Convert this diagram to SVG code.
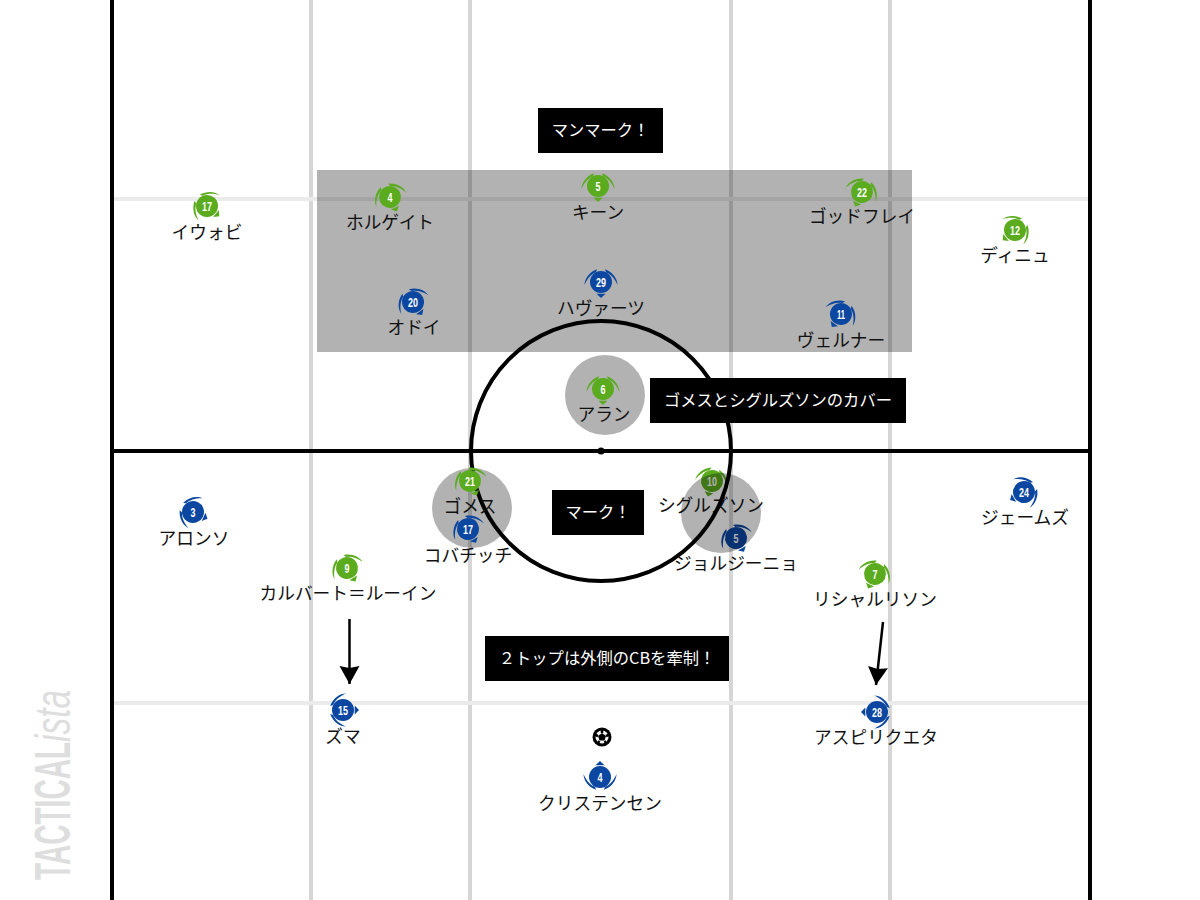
<svg xmlns="http://www.w3.org/2000/svg" width="1200" height="900" viewBox="0 0 1200 900">
<style>
text{font-family:"Noto Sans CJK JP","Liberation Sans",sans-serif}
.lbl{font-size:17.700px;fill:#111;text-anchor:middle}
.num{font-family:"Liberation Sans",sans-serif;font-size:12px;font-weight:700;fill:#fff;text-anchor:middle}
.box{fill:#000}
.cap{font-size:16.300px;fill:#fff;text-anchor:middle}
.g{fill:#5aab1e}.b{fill:#0b47a1}
.guide{stroke:#d6d6d6;stroke-width:4;fill:none}
.guideh{stroke:#ebebeb;stroke-width:4;fill:none}
.pitch{stroke:#000;stroke-width:4;fill:none}
.shade{fill:#000;fill-opacity:.3}
.arrow{stroke:#000;stroke-width:2.500;fill:none;marker-end:url(#ah)}
.brand{font-family:"Liberation Sans",sans-serif;font-size:50px;fill:#dedede}
</style>
<defs>
<marker id="ah" markerUnits="userSpaceOnUse" markerWidth="22" markerHeight="22" refX="18" refY="10" orient="auto"><path d="M0 0L18 10L0 20L2 10Z" fill="#000"/></marker>
<g id="p"><circle r="11"/><path d="M-4.500 -11.700L4.500 -11.700L0 -16Z"/><path d="M-16.500 -3C-16.500 3 -12 10 -4 12.800L-5 9.800C-10 8 -14 3 -16.500 -3Z"/><path d="M16.500 -3C16.500 3 12 10 4 12.800L5 9.800C10 8 14 3 16.500 -3Z"/></g>
</defs>
<rect width="1200" height="900" fill="#fff"/>
<g id="guides">
<path class="guide" d="M311 0V900M470 0V900M731 0V900M890 0V900"/>
<path class="guideh" d="M112 199H1090M112 703H1090"/>
</g>
<rect id="zone" class="shade" x="317" y="170" width="595" height="182"/>
<g id="p-sigurdsson"><use href="#p" class="g" transform="translate(712 481) rotate(195)"/><text class="num" x="712" y="485.500" textLength="10" lengthAdjust="spacingAndGlyphs">10</text><text class="lbl" x="711" y="512">シグルズソン</text></g>
<g id="p-jorginho"><use href="#p" class="b" transform="translate(736 538) rotate(150)"/><text class="num" x="736" y="542.500" textLength="5" lengthAdjust="spacingAndGlyphs">5</text><text class="lbl" x="736" y="570">ジョルジーニョ</text></g>
<circle id="shade-sigurdsson" class="shade" cx="721" cy="513" r="40"/>
<circle id="shade-arrasate" class="shade" cx="605" cy="395" r="40"/>
<circle id="shade-gomes" class="shade" cx="472" cy="508" r="40"/>
<g id="pitch-lines">
<path class="pitch" d="M112 0V900M1090 0V900M112 451H1090"/>
<circle class="pitch" cx="601" cy="451" r="130"/>
<circle cx="601" cy="451" r="3.500" fill="#000"/>
</g>
<g id="connectors">
<path class="arrow" d="M349.500 619V684"/>
<path class="arrow" d="M883 622L876 685"/>
</g>
<g id="p-iwobi"><use href="#p" class="g" transform="translate(207 206) rotate(130)"/><text class="num" x="207" y="210.500" textLength="10" lengthAdjust="spacingAndGlyphs">17</text><text class="lbl" x="207" y="239">イウォビ</text></g>
<g id="p-holgate"><use href="#p" class="g" transform="translate(390 197) rotate(155)"/><text class="num" x="390" y="201.500" textLength="5" lengthAdjust="spacingAndGlyphs">4</text><text class="lbl" x="390" y="229">ホルゲイト</text></g>
<g id="p-keane"><use href="#p" class="g" transform="translate(598 186) rotate(180)"/><text class="num" x="598" y="190.500" textLength="5" lengthAdjust="spacingAndGlyphs">5</text><text class="lbl" x="598" y="219">キーン</text></g>
<g id="p-godfrey"><use href="#p" class="g" transform="translate(862 192) rotate(205)"/><text class="num" x="862" y="196.500" textLength="10" lengthAdjust="spacingAndGlyphs">22</text><text class="lbl" x="862" y="223">ゴッドフレイ</text></g>
<g id="p-digne"><use href="#p" class="g" transform="translate(1015 230) rotate(230)"/><text class="num" x="1015" y="234.500" textLength="10" lengthAdjust="spacingAndGlyphs">12</text><text class="lbl" x="1015" y="262">ディニュ</text></g>
<g id="p-odoi"><use href="#p" class="b" transform="translate(413 302) rotate(145)"/><text class="num" x="413" y="306.500" textLength="10" lengthAdjust="spacingAndGlyphs">20</text><text class="lbl" x="414" y="334">オドイ</text></g>
<g id="p-havertz"><use href="#p" class="b" transform="translate(601 282) rotate(180)"/><text class="num" x="601" y="286.500" textLength="10" lengthAdjust="spacingAndGlyphs">29</text><text class="lbl" x="601" y="315">ハヴァーツ</text></g>
<g id="p-werner"><use href="#p" class="b" transform="translate(841 314) rotate(215)"/><text class="num" x="841" y="318.500" textLength="8" lengthAdjust="spacingAndGlyphs">11</text><text class="lbl" x="841" y="347">ヴェルナー</text></g>
<g id="p-arrasate"><use href="#p" class="g" transform="translate(603 389) rotate(180)"/><text class="num" x="603" y="393.500" textLength="5" lengthAdjust="spacingAndGlyphs">6</text><text class="lbl" x="604" y="421">アラン</text></g>
<g id="p-gomes"><use href="#p" class="g" transform="translate(470 481) rotate(155)"/><text class="num" x="470" y="485.500" textLength="10" lengthAdjust="spacingAndGlyphs">21</text><text class="lbl" x="470" y="513">ゴメス</text></g>
<g id="p-kovacic"><use href="#p" class="b" transform="translate(468 529) rotate(150)"/><text class="num" x="468" y="533.500" textLength="10" lengthAdjust="spacingAndGlyphs">17</text><text class="lbl" x="468" y="562">コバチッチ</text></g>
<g id="p-alonso"><use href="#p" class="b" transform="translate(193 512) rotate(115)"/><text class="num" x="193" y="516.500" textLength="5" lengthAdjust="spacingAndGlyphs">3</text><text class="lbl" x="194" y="545">アロンソ</text></g>
<g id="p-james"><use href="#p" class="b" transform="translate(1024 492) rotate(240)"/><text class="num" x="1024" y="496.500" textLength="10" lengthAdjust="spacingAndGlyphs">24</text><text class="lbl" x="1025" y="524">ジェームズ</text></g>
<g id="p-calvert"><use href="#p" class="g" transform="translate(347 568) rotate(148)"/><text class="num" x="347" y="572.500" textLength="5" lengthAdjust="spacingAndGlyphs">9</text><text class="lbl" x="348" y="600">カルバート＝ルーイン</text></g>
<g id="p-richarlison"><use href="#p" class="g" transform="translate(875 574) rotate(205)"/><text class="num" x="875" y="578.500" textLength="5" lengthAdjust="spacingAndGlyphs">7</text><text class="lbl" x="875" y="606">リシャルリソン</text></g>
<g id="p-zouma"><use href="#p" class="b" transform="translate(343 710) rotate(90)"/><text class="num" x="343" y="714.500" textLength="10" lengthAdjust="spacingAndGlyphs">15</text><text class="lbl" x="343" y="743">ズマ</text></g>
<g id="p-azpi"><use href="#p" class="b" transform="translate(877 712) rotate(270)"/><text class="num" x="877" y="716.500" textLength="10" lengthAdjust="spacingAndGlyphs">28</text><text class="lbl" x="876" y="744">アスピリクエタ</text></g>
<g id="p-christensen"><use href="#p" class="b" transform="translate(600 777)"/><text class="num" x="600" y="781.500" textLength="5" lengthAdjust="spacingAndGlyphs">4</text><text class="lbl" x="600" y="810">クリステンセン</text></g>
<g id="ball"><circle cx="602" cy="737" r="9.500" fill="#000"/><circle cx="602" cy="737" r="6.500" fill="#fff"/><path d="M602 733L606 735.900L604.500 740.500H599.500L598 735.900Z" fill="#000"/><path d="M602 729V733M610 734.500L606 736M607 744L604.500 741M597 744L599.500 741M594 734.500L598 736" stroke="#000" stroke-width="2.500"/></g>
<g id="cap-manmark"><rect class="box" x="538" y="108" width="125" height="45"/><text class="cap" x="600.500" y="136">マンマーク！</text></g>
<g id="cap-cover"><rect class="box" x="650" y="378" width="256" height="45"/><text class="cap" x="778" y="406">ゴメスとシグルズソンのカバー</text></g>
<g id="cap-mark"><rect class="box" x="552" y="490" width="92" height="45"/><text class="cap" x="598" y="518">マーク！</text></g>
<g id="cap-2top"><rect class="box" x="485" y="636" width="244" height="45"/><text class="cap" x="607" y="664">２トップは外側のCBを牽制！</text></g>
<g id="brand" transform="translate(70 880) rotate(-90)"><text class="brand" x="0" y="0" font-weight="700" textLength="138" lengthAdjust="spacingAndGlyphs">TACTICAL</text><text class="brand" x="138" y="0" font-style="italic" textLength="52" lengthAdjust="spacingAndGlyphs">ista</text></g>
</svg>
